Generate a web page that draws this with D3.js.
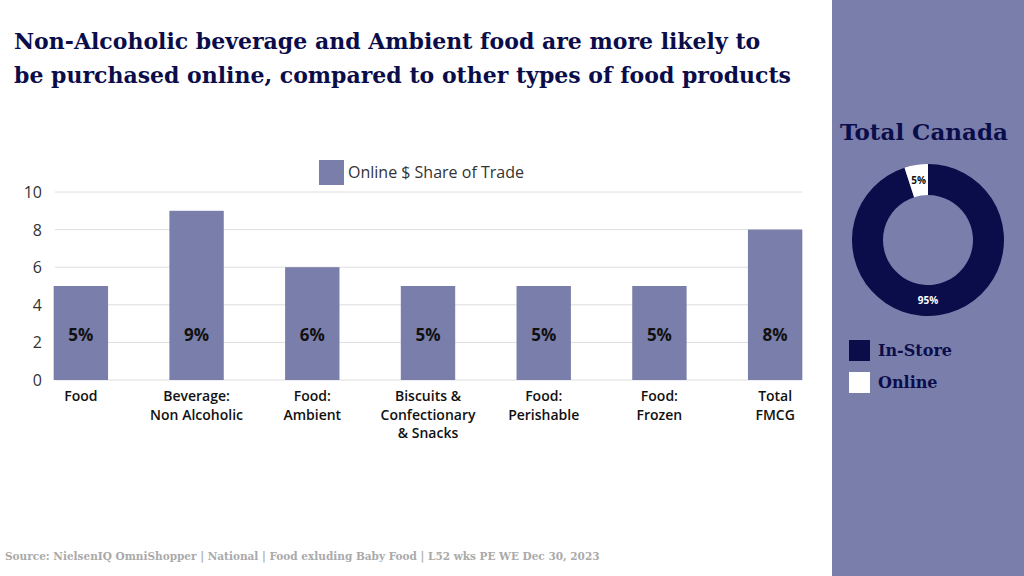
<!DOCTYPE html>
<html><head><meta charset="utf-8">
<script src="https://cdn.jsdelivr.net/npm/d3@7"></script>
<style>body{margin:0;background:#fff}svg{display:block}</style>
</head><body>
<svg id="chart" width="1024" height="576"></svg>
<script>
// bar data
var categories = [["Food"], ["Beverage:", "Non Alcoholic"], ["Food:", "Ambient"], ["Biscuits &", "Confectionary", "& Snacks"], ["Food:", "Perishable"], ["Food:", "Frozen"], ["Total", "FMCG"]];
var onlineShare = [5, 9, 6, 5, 5, 5, 8];
var yTicks = [0, 2, 4, 6, 8, 10];
// donut data
var donutLabels = ["In-Store", "Online"];
var donutValues = [95, 5];

var navy = "#0b0d4a", purple = "#7a7eab";
var svg = d3.select("#chart");

svg.append("rect").attr("x", 832).attr("y", 0).attr("width", 192).attr("height", 576).attr("fill", purple);

var serif = "'DejaVu Serif', serif";
var title = svg.append("text").attr("x", 14).attr("font-family", serif).attr("font-weight", "bold")
  .attr("font-size", 22).attr("fill", navy);
title.append("tspan").attr("x", 14).attr("y", 49).text("Non-Alcoholic beverage and Ambient food are more likely to");
title.append("tspan").attr("x", 14).attr("y", 83).text("be purchased online, compared to other types of food products");

var x = d3.scaleBand().domain(d3.range(categories.length)).range([23, 833]).paddingInner(0.53).paddingOuter(0.265);
var y = d3.scaleLinear().domain([0, 10]).range([380, 192]);

var grid = svg.append("g");
grid.selectAll("line").data(yTicks).join("line")
  .attr("x1", 55).attr("x2", 802).attr("y1", d => y(d)).attr("y2", d => y(d))
  .attr("stroke", "#dedede").attr("stroke-width", 1);
grid.selectAll("text").data(yTicks).join("text")
  .attr("x", 42).attr("y", d => y(d) + 6).attr("text-anchor", "end")
  .attr("font-family", "'Open Sans', sans-serif").attr("font-size", 16).attr("fill", "#333").text(d => d);

svg.selectAll(".bar").data(onlineShare).join("rect").attr("class", "bar")
  .attr("x", (d, i) => x(i)).attr("width", x.bandwidth())
  .attr("y", d => y(d)).attr("height", d => y(0) - y(d)).attr("fill", purple);

svg.selectAll(".val").data(onlineShare).join("text").attr("class", "val")
  .attr("x", (d, i) => x(i) + x.bandwidth() / 2).attr("y", 341).attr("text-anchor", "middle")
  .attr("font-family", "'Open Sans', sans-serif").attr("font-weight", "bold").attr("font-size", 17)
  .attr("fill", "#111").text(d => d + "%");

var cat = svg.selectAll(".cat").data(categories).join("text").attr("class", "cat")
  .attr("text-anchor", "middle").attr("font-family", "'Open Sans', sans-serif")
  .attr("font-weight", 600).attr("font-size", 14).attr("fill", "#111");
cat.each(function (lines, i) {
  var t = d3.select(this);
  lines.forEach(function (l, j) {
    t.append("tspan").attr("x", x(i) + x.bandwidth() / 2).attr("y", 401 + j * 18.5).text(l);
  });
});

// legend
svg.append("rect").attr("x", 319).attr("y", 160).attr("width", 25).attr("height", 25).attr("fill", purple);
svg.append("text").attr("x", 348).attr("y", 178).attr("font-family", "'Open Sans', sans-serif")
  .attr("font-size", 16).attr("fill", "#333").text("Online $ Share of Trade");

// source
svg.append("text").attr("x", 5).attr("y", 560).attr("font-family", serif).attr("font-weight", "bold")
  .attr("font-size", 10.5).attr("fill", "#aaa")
  .text("Source: NielsenIQ OmniShopper | National | Food exluding Baby Food | L52 wks PE WE Dec 30, 2023");

// donut
svg.append("text").attr("x", 924).attr("y", 140).attr("text-anchor", "middle").attr("font-family", serif)
  .attr("font-weight", "bold").attr("font-size", 23).attr("fill", navy).text("Total Canada");

var pie = d3.pie().sort(null).value(d => d);
var arc = d3.arc().innerRadius(45).outerRadius(76);
var g = svg.append("g").attr("transform", "translate(928,240)");
var arcs = pie(donutValues);
g.selectAll("path").data(arcs).join("path").attr("d", arc)
  .attr("fill", (d, i) => i === 0 ? navy : "#fff");
g.selectAll("text").data(arcs).join("text")
  .attr("transform", (d, i) => {
    var c = arc.centroid(d);
    return i === 0 ? "translate(0," + (60 + 4) + ")" : "translate(" + (c[0]) + "," + (c[1] + 4) + ")";
  })
  .attr("text-anchor", "middle").attr("font-family", "'Open Sans', sans-serif").attr("font-weight", "bold")
  .attr("font-size", 10).attr("fill", (d, i) => i === 0 ? "#fff" : "#111")
  .text(d => d.data + "%");

var lg = svg.selectAll(".dl").data(donutLabels).join("g").attr("class", "dl")
  .attr("transform", (d, i) => "translate(849," + (340 + i * 32) + ")");
lg.append("rect").attr("width", 21).attr("height", 21).attr("fill", (d, i) => i === 0 ? navy : "#fff");
lg.append("text").attr("x", 29).attr("y", 16).attr("font-family", serif).attr("font-weight", "bold")
  .attr("font-size", 16).attr("fill", navy).text(d => d);
</script>
</body></html>
